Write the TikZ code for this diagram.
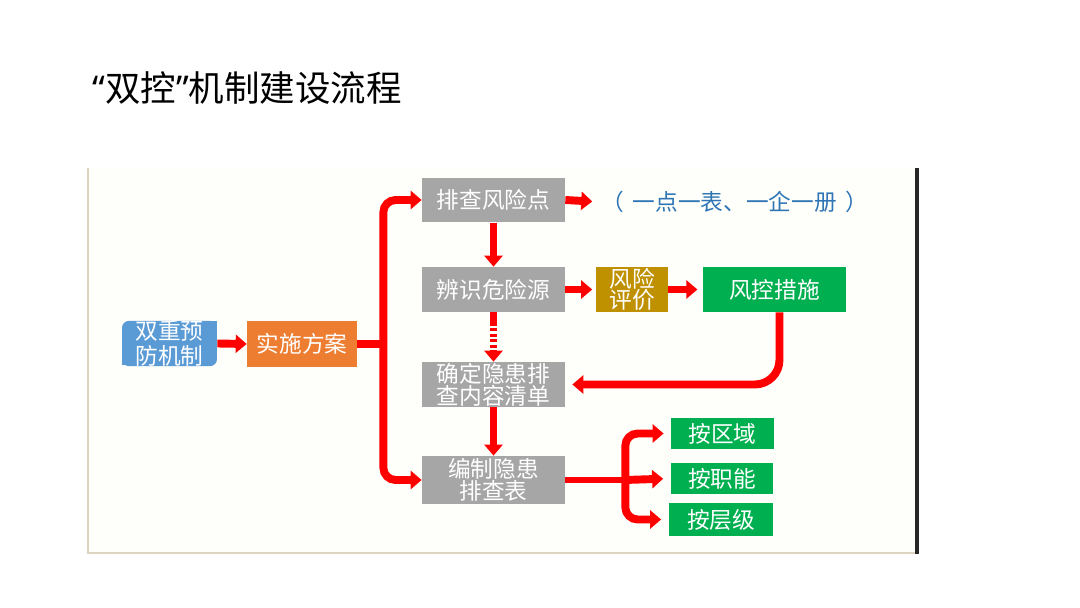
\documentclass[tikz,border=0pt]{standalone}
\usepackage{fontspec}
\setmainfont{Noto Sans CJK SC}
\newfontfamily\quotefont{Noto Sans}
\usetikzlibrary{calc}
\usetikzlibrary{arrows.meta,positioning}

\definecolor{prevblue}{HTML}{5B9BD5}
\definecolor{planorange}{HTML}{ED7D31}
\definecolor{boxgrey}{HTML}{A6A6A6}
\definecolor{evalgold}{HTML}{BF9000}
\definecolor{ctrlgreen}{HTML}{00B050}
\definecolor{arrowred}{HTML}{FF0000}
\definecolor{noteblue}{HTML}{2E75B6}
\definecolor{framebeige}{HTML}{DDD3C0}
\definecolor{framebg}{HTML}{FEFEFA}

\newcommand{\boxfont}{\fontsize{12.9}{12.4}\selectfont\lineskiplimit-20pt\relax}

\tikzset{
  box/.style={rectangle,inner sep=0pt,align=center,text=white,font=\boxfont},
  greybox/.style={box,fill=boxgrey,minimum width=2.86cm,minimum height=0.9cm},
  greenbox/.style={box,fill=ctrlgreen,minimum width=2.06cm,minimum height=0.62cm},
  redline/.style={line width=4.5pt,draw=arrowred},
  redarrow/.style={redline,-{Triangle[length=0.22cm,width=0.36cm]}},
}

\begin{document}
\begin{tikzpicture}[x=0.02cm,y=-0.02cm]

\useasboundingbox (0,0) rectangle (1080,608);
\coordinate (LEFTCORNER) at (0,0);

% title
\node[anchor=west,inner sep=0pt,font=\fontsize{20.2}{24}\selectfont] at ($(LEFTCORNER)+(92,88)$) (TITLE) {{\quotefont “}双控{\quotefont ”}机制建设流程};

% picture frame
\fill[framebg] (88,168) rectangle (917,553);
\draw[framebeige,line width=1.2pt] (88,168) -- (88,553) -- (917,553);
\draw[black!85,line width=1.8pt] (917,168) -- (917,554);

%%%%%%%%%%%%%%%%%%%
% left part
\fill[prevblue] ($(LEFTCORNER)+(217,321.5)$) rectangle ++(-8,8);
\fill[prevblue] ($(LEFTCORNER)+(122,365.5)$) rectangle ++(8,-8);
\node[box,fill=prevblue,rounded corners=4pt,minimum width=1.9cm,minimum height=0.88cm,
  font=\fontsize{12.9}{14}\selectfont] at ($(LEFTCORNER)+(169.5,343.5)$) (PREV) {双重预\\防机制};
\node[box,fill=planorange,minimum width=2.2cm,minimum height=0.92cm] at ($(LEFTCORNER)+(302,344)$) (PLAN) {实施方案};

%%%%%%%%%%%%%%%%%%%
% middle column
\node[greybox] at ($(LEFTCORNER)+(493.5,200)$) (CHECK) {排查风险点};
\node[greybox] at ($(LEFTCORNER)+(493.5,289.5)$) (IDENT) {辨识危险源};
\node[greybox] at ($(LEFTCORNER)+(493.5,384.5)$) (LIST) {确定隐患排\\查内容清单};
\node[greybox,minimum height=0.96cm] at ($(LEFTCORNER)+(493.5,480)$) (TABLE) {编制隐患\\排查表};

% right part
\node[anchor=west,text=noteblue,inner sep=0pt,font=\fontsize{12.9}{15}\selectfont] at ($(LEFTCORNER)+(601,202)$) (NOTE) {（\hspace{5pt}一点一表、一企一册\hspace{5pt}）};
\node[box,fill=evalgold,minimum width=1.44cm,minimum height=0.9cm] at ($(LEFTCORNER)+(632,289.5)$) (EVAL) {风险\\评价};
\node[box,fill=ctrlgreen,minimum width=2.86cm,minimum height=0.9cm] at ($(LEFTCORNER)+(774.5,289.5)$) (CTRL) {风控措施};
\node[greenbox] at ($(LEFTCORNER)+(722.5,433.5)$) (AREA) {按区域};
\node[greenbox] at ($(LEFTCORNER)+(722,478.5)$) (FUNC) {按职能};
\node[greenbox,minimum width=2.1cm,minimum height=0.66cm] at ($(LEFTCORNER)+(721,519.5)$) (LEVEL) {按层级};

%%%%%%%%%%%%%%%%%%%
% arrows
\draw[redarrow] (PREV.east) -- (PLAN.west);

\coordinate (FORK1) at ($(PLAN.east)+(26,0)$);
\draw[redline] (PLAN.east) -- (FORK1);
\draw[redarrow,rounded corners=7pt] (FORK1) |- (CHECK.west);
\draw[redarrow,rounded corners=7pt] (FORK1) |- (TABLE.west);

\draw[redarrow,shorten >=5pt] (CHECK.east) -- (NOTE.west);
\draw[redarrow] (CHECK.south) -- (IDENT.north);
\draw[redarrow,shorten >=2pt] (IDENT.east) -- (EVAL.west);
\draw[redarrow,shorten >=3pt] (EVAL.east) -- (CTRL.west);

\coordinate (STRIPE) at ($(IDENT.south)+(0,10)$);
\draw[redline] (IDENT.south) -- (STRIPE);
\draw[redarrow,dash pattern=on 1.8pt off 1.4pt] (STRIPE) -- (LIST.north);

\draw[redarrow,rounded corners=14pt,shorten >=4pt] ($(CTRL.south)+(5,0)$) |- (LIST.east);
\draw[redarrow] (LIST.south) -- (TABLE.north);

\coordinate (FORK2) at ($(TABLE.east)+(60,0)$);
\draw[redline,line width=3.5pt] (TABLE.east) -- (FORK2);
\draw[redarrow,rounded corners=7pt,shorten >=4pt] (FORK2) |- (AREA.west);
\draw[redarrow,shorten >=4pt] (FORK2) -- (FUNC.west);
\draw[redarrow,rounded corners=7pt,shorten >=4pt] (FORK2) |- (LEVEL.west);

\end{tikzpicture}
\end{document}
